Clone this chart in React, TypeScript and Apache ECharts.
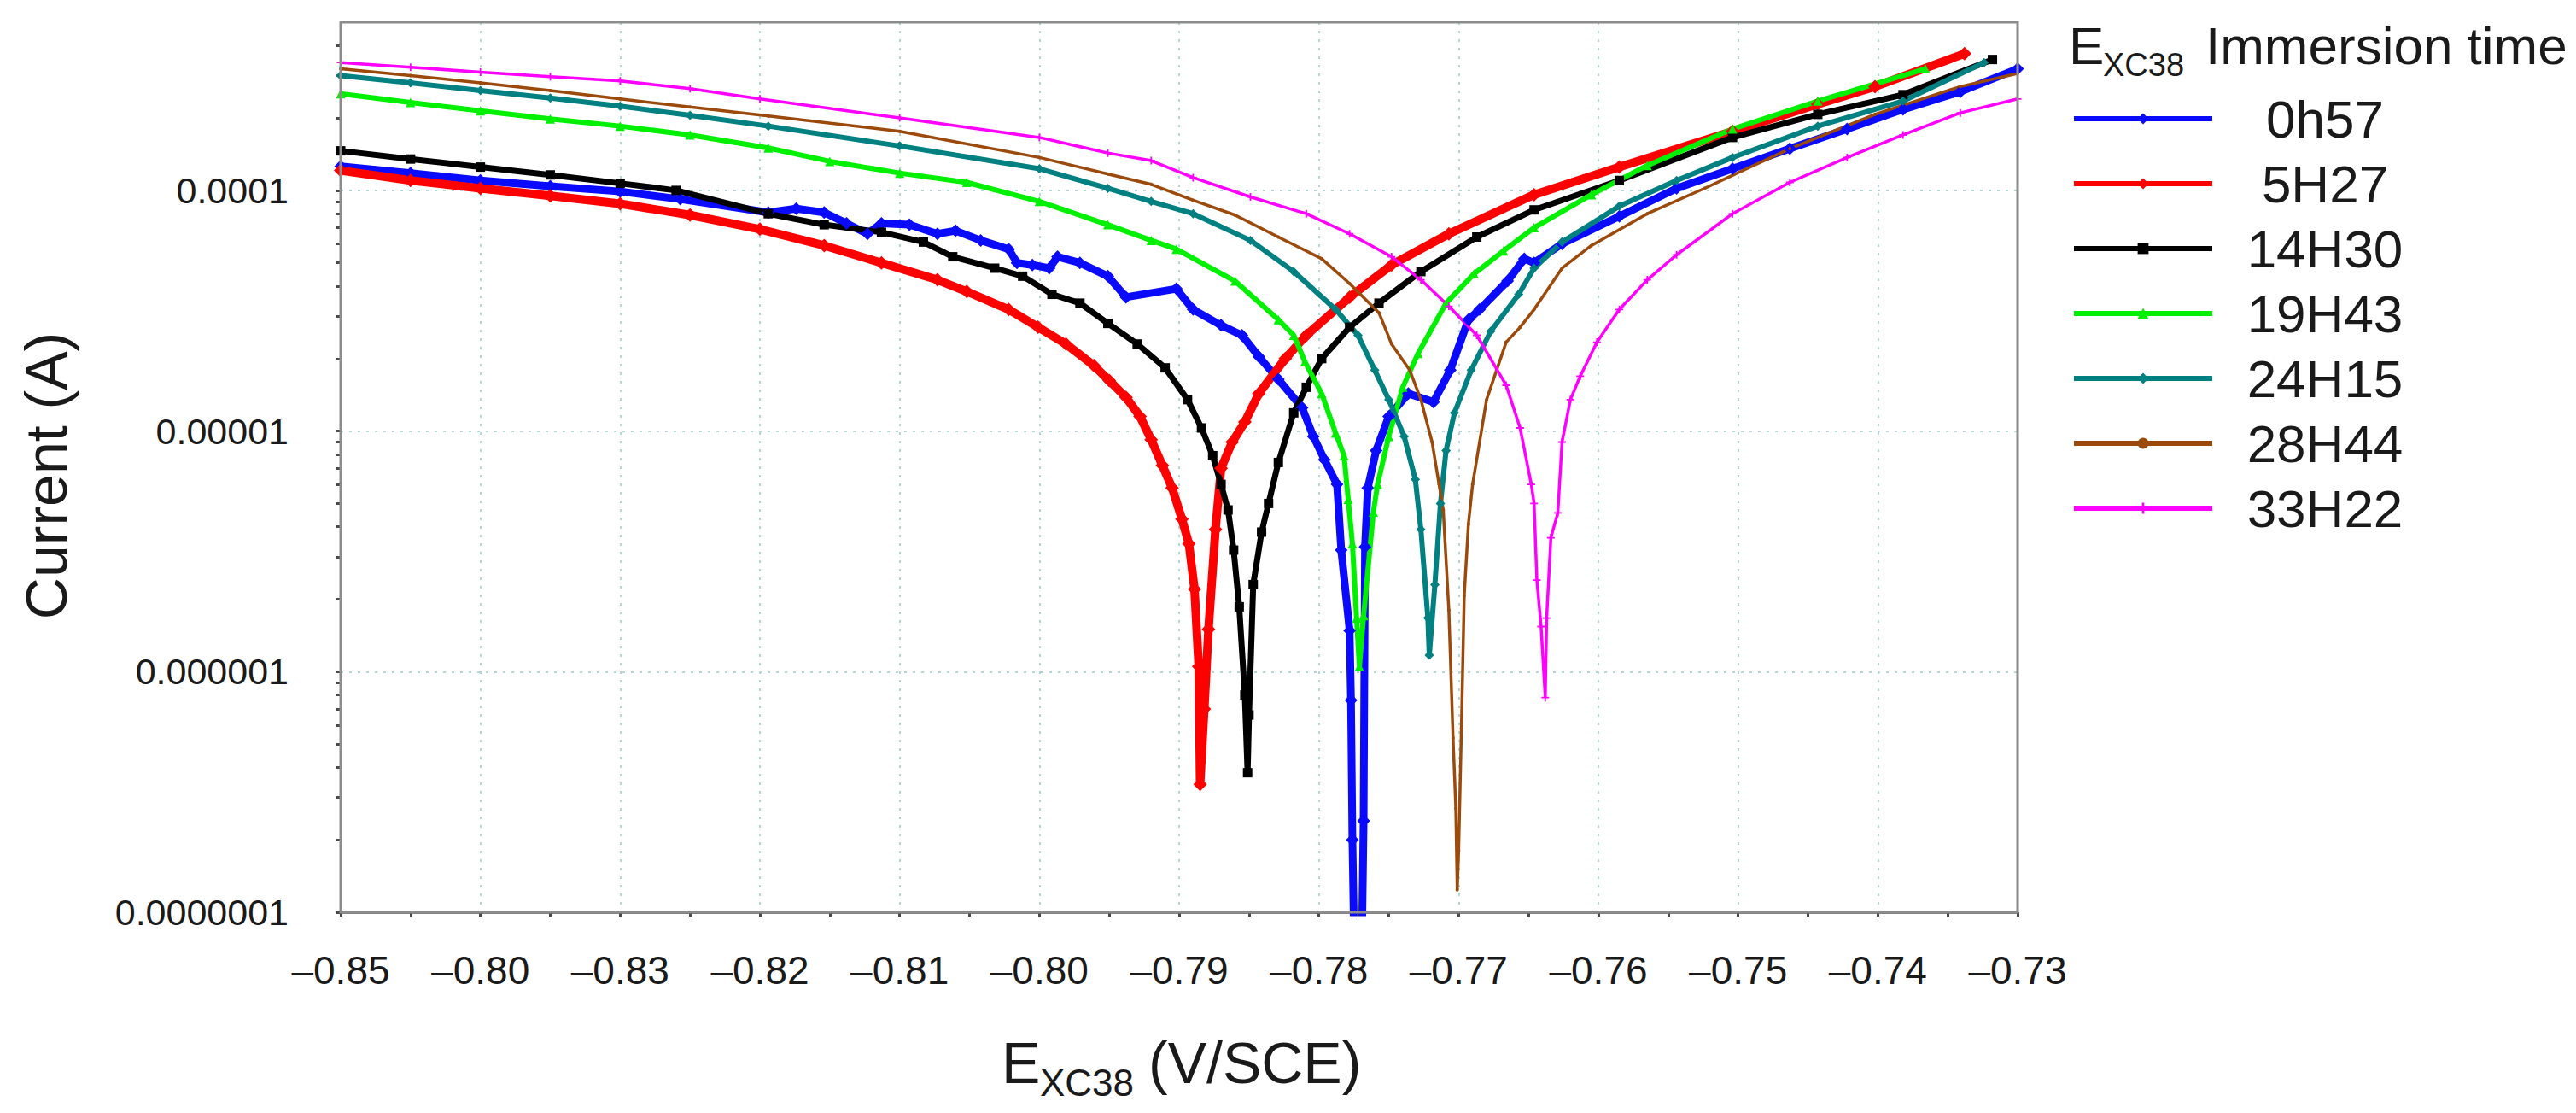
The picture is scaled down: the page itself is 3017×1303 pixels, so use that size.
import { useEffect, useRef } from "react";
import * as echarts from "echarts";

const FONT = '"Liberation Sans", Arial, sans-serif';

// axis ticks (x labels copied as printed, including the second one)
const xTickLabels = ["–0.85", "–0.80", "–0.83", "–0.82", "–0.81", "–0.80", "–0.79", "–0.78", "–0.77", "–0.76", "–0.75", "–0.74", "–0.73"];
const yTickLabels = ["0.0000001", "0.000001", "0.00001", "0.0001"];
const seriesNames = ["0h57", "5H27", "14H30", "19H43", "24H15", "28H44", "33H22"];

// potential (V/SCE) and current (A) per immersion time
const e0h57 = [-0.850, -0.845, -0.840, -0.835, -0.830, -0.8257, -0.8194, -0.8174, -0.8154, -0.8138, -0.8123, -0.8113, -0.8093, -0.8073, -0.8060, -0.8042, -0.8022, -0.8016, -0.8005, -0.7993, -0.7987, -0.7971, -0.7951, -0.7938, -0.7902, -0.7890, -0.7870, -0.7855, -0.7843, -0.7829, -0.7812, -0.7804, -0.7796, -0.7787, -0.7784, -0.7778, -0.7777, -0.7776, -0.7775, -0.7769, -0.7768, -0.7767, -0.7765, -0.7759, -0.7750, -0.7736, -0.7718, -0.7706, -0.7693, -0.7685, -0.7665, -0.7653, -0.7646, -0.7626, -0.7585, -0.7544, -0.7504, -0.7463, -0.7422, -0.7382, -0.7341, -0.7300];
const i0h57 = [1.26e-4, 1.18e-4, 1.10e-4, 1.04e-4, 9.9e-5, 9.2e-5, 8.1e-5, 8.4e-5, 8.1e-5, 7.3e-5, 6.6e-5, 7.3e-5, 7.2e-5, 6.6e-5, 6.8e-5, 6.2e-5, 5.7e-5, 5.0e-5, 4.9e-5, 4.75e-5, 5.3e-5, 5.0e-5, 4.4e-5, 3.6e-5, 3.9e-5, 3.2e-5, 2.75e-5, 2.5e-5, 2.04e-5, 1.64e-5, 1.25e-5, 9.5e-6, 7.6e-6, 6.0e-6, 3.2e-6, 1.48e-6, 7.6e-7, 2.0e-7, 9e-8, 9e-8, 2.4e-7, 3.3e-6, 5.8e-6, 8.3e-6, 1.15e-5, 1.43e-5, 1.32e-5, 1.79e-5, 2.9e-5, 3.2e-5, 4.2e-5, 5.2e-5, 5.0e-5, 6.0e-5, 7.8e-5, 1.02e-4, 1.23e-4, 1.49e-4, 1.8e-4, 2.17e-4, 2.57e-4, 3.2e-4];

const e5h27 = [-0.850, -0.845, -0.840, -0.835, -0.830, -0.825, -0.820, -0.8154, -0.8113, -0.8073, -0.8052, -0.8022, -0.8001, -0.7981, -0.7961, -0.7950, -0.7938, -0.7928, -0.7920, -0.7912, -0.7905, -0.7898, -0.7893, -0.7889, -0.7886, -0.7885, -0.7882, -0.7879, -0.7874, -0.7870, -0.7862, -0.7853, -0.7843, -0.7824, -0.7809, -0.7778, -0.7748, -0.7707, -0.7646, -0.7585, -0.7504, -0.7443, -0.7402, -0.7338];
const i5h27 = [1.21e-4, 1.10e-4, 1.02e-4, 9.5e-5, 8.8e-5, 7.9e-5, 6.9e-5, 5.9e-5, 5.0e-5, 4.25e-5, 3.8e-5, 3.2e-5, 2.7e-5, 2.3e-5, 1.87e-5, 1.62e-5, 1.38e-5, 1.15e-5, 9.2e-6, 7.2e-6, 5.8e-6, 4.3e-6, 3.4e-6, 2.2e-6, 1.05e-6, 3.4e-7, 7.0e-7, 1.5e-6, 3.9e-6, 7.0e-6, 9.0e-6, 1.09e-5, 1.43e-5, 2.0e-5, 2.5e-5, 3.6e-5, 4.9e-5, 6.6e-5, 9.6e-5, 1.25e-4, 1.76e-4, 2.28e-4, 2.7e-4, 3.7e-4];

const e14h30 = [-0.850, -0.845, -0.840, -0.835, -0.830, -0.826, -0.8194, -0.8154, -0.8113, -0.8083, -0.8062, -0.8032, -0.8012, -0.7991, -0.7971, -0.7951, -0.7930, -0.7910, -0.7894, -0.7884, -0.7876, -0.7870, -0.7865, -0.7861, -0.7857, -0.7853, -0.7851, -0.7850, -0.7847, -0.7841, -0.7836, -0.7829, -0.7818, -0.7809, -0.7798, -0.7778, -0.7757, -0.7727, -0.7687, -0.7646, -0.7585, -0.7504, -0.7443, -0.7382, -0.7318];
const i14h30 = [1.46e-4, 1.35e-4, 1.25e-4, 1.16e-4, 1.07e-4, 1.0e-4, 8.0e-5, 7.2e-5, 6.7e-5, 6.1e-5, 5.3e-5, 4.75e-5, 4.4e-5, 3.7e-5, 3.4e-5, 2.8e-5, 2.3e-5, 1.83e-5, 1.35e-5, 1.03e-5, 7.9e-6, 6.0e-6, 4.7e-6, 3.2e-6, 1.86e-6, 8.0e-7, 3.8e-7, 6.6e-7, 2.3e-6, 3.8e-6, 5.0e-6, 7.4e-6, 1.19e-5, 1.52e-5, 2.0e-5, 2.7e-5, 3.4e-5, 4.6e-5, 6.4e-5, 8.3e-5, 1.1e-4, 1.66e-4, 2.07e-4, 2.5e-4, 3.5e-4];

const e19h43 = [-0.850, -0.845, -0.840, -0.835, -0.830, -0.825, -0.8194, -0.8150, -0.8100, -0.8052, -0.8000, -0.7951, -0.7920, -0.7902, -0.7860, -0.7829, -0.7818, -0.7810, -0.7798, -0.7788, -0.7782, -0.7779, -0.7776, -0.7773, -0.7771, -0.7768, -0.7761, -0.7758, -0.7750, -0.7740, -0.7729, -0.7709, -0.7689, -0.7668, -0.7646, -0.7605, -0.7565, -0.7504, -0.7443, -0.7366];
const i19h43 = [2.52e-4, 2.32e-4, 2.14e-4, 1.98e-4, 1.85e-4, 1.7e-4, 1.5e-4, 1.32e-4, 1.18e-4, 1.08e-4, 9.0e-5, 7.2e-5, 6.2e-5, 5.7e-5, 4.2e-5, 2.9e-5, 2.5e-5, 1.94e-5, 1.43e-5, 9.8e-6, 7.9e-6, 5.2e-6, 3.4e-6, 1.67e-6, 1.05e-6, 1.71e-6, 4.6e-6, 6.0e-6, 9.5e-6, 1.52e-5, 2.1e-5, 3.4e-5, 4.5e-5, 5.6e-5, 7.0e-5, 9.6e-5, 1.27e-4, 1.8e-4, 2.35e-4, 3.2e-4];

const e24h15 = [-0.850, -0.845, -0.840, -0.835, -0.830, -0.825, -0.8194, -0.8100, -0.8000, -0.7951, -0.7920, -0.7890, -0.7849, -0.7818, -0.7788, -0.7772, -0.7760, -0.7750, -0.7739, -0.7731, -0.7727, -0.7722, -0.7721, -0.7717, -0.7713, -0.7709, -0.7703, -0.7691, -0.7677, -0.7657, -0.7646, -0.7626, -0.7585, -0.7544, -0.7504, -0.7443, -0.7382, -0.7324];
const i24h15 = [3.0e-4, 2.8e-4, 2.6e-4, 2.42e-4, 2.24e-4, 2.05e-4, 1.85e-4, 1.53e-4, 1.23e-4, 1.02e-4, 9.0e-5, 8.0e-5, 6.2e-5, 4.6e-5, 3.2e-5, 2.5e-5, 1.79e-5, 1.35e-5, 9.5e-6, 6.3e-6, 3.9e-6, 1.67e-6, 1.17e-6, 2.3e-6, 5.0e-6, 8.3e-6, 1.19e-5, 1.79e-5, 2.6e-5, 3.7e-5, 4.75e-5, 6.1e-5, 8.6e-5, 1.1e-4, 1.37e-4, 1.85e-4, 2.35e-4, 3.4e-4];

const e28h44 = [-0.850, -0.845, -0.840, -0.835, -0.830, -0.825, -0.8194, -0.8100, -0.8000, -0.7951, -0.7920, -0.7890, -0.7860, -0.7829, -0.7798, -0.7778, -0.7757, -0.7748, -0.7735, -0.7727, -0.7719, -0.7714, -0.7711, -0.7707, -0.7704, -0.7702, -0.7701, -0.7700, -0.7698, -0.7696, -0.7693, -0.7690, -0.7680, -0.7666, -0.7656, -0.7646, -0.7626, -0.7605, -0.7565, -0.7524, -0.7463, -0.7402, -0.7341, -0.7300];
const i28h44 = [3.2e-4, 3.0e-4, 2.8e-4, 2.6e-4, 2.4e-4, 2.22e-4, 2.04e-4, 1.76e-4, 1.37e-4, 1.17e-4, 1.06e-4, 9.1e-5, 7.9e-5, 6.4e-5, 5.2e-5, 4.1e-5, 3.1e-5, 2.3e-5, 1.79e-5, 1.35e-5, 9.0e-6, 6.0e-6, 4.7e-6, 1.8e-6, 5.3e-7, 2.7e-7, 1.24e-7, 1.8e-7, 5.8e-7, 2.07e-6, 4.1e-6, 6.0e-6, 1.35e-5, 2.34e-5, 2.7e-5, 3.2e-5, 4.75e-5, 5.9e-5, 8.0e-5, 1.02e-4, 1.49e-4, 2.07e-4, 2.7e-4, 3.06e-4];

const e33h22 = [-0.850, -0.845, -0.840, -0.835, -0.830, -0.825, -0.820, -0.8100, -0.8000, -0.7951, -0.7920, -0.7890, -0.7849, -0.7809, -0.7778, -0.7748, -0.7727, -0.7707, -0.7687, -0.7666, -0.7656, -0.7648, -0.7646, -0.7644, -0.7641, -0.7638, -0.7637, -0.7634, -0.7629, -0.7626, -0.7620, -0.7613, -0.7601, -0.7585, -0.7565, -0.7544, -0.7504, -0.7463, -0.7422, -0.7382, -0.7341, -0.7300];
const i33h22 = [3.4e-4, 3.25e-4, 3.1e-4, 2.97e-4, 2.85e-4, 2.65e-4, 2.4e-4, 2.0e-4, 1.66e-4, 1.43e-4, 1.33e-4, 1.13e-4, 9.4e-5, 8.0e-5, 6.6e-5, 5.3e-5, 4.25e-5, 3.3e-5, 2.5e-5, 1.55e-5, 1.03e-5, 6.0e-6, 5.0e-6, 2.4e-6, 1.54e-6, 7.8e-7, 1.67e-6, 3.6e-6, 4.57e-6, 9.0e-6, 1.35e-5, 1.69e-5, 2.34e-5, 3.2e-5, 4.25e-5, 5.4e-5, 8.0e-5, 1.08e-4, 1.37e-4, 1.7e-4, 2.1e-4, 2.4e-4];

const X_MIN = -0.85;
const X_MAX = -0.73;
const Y_MIN = 1e-7;
const Y_MAX = 5e-4;

const PLUS = "path://M4,0H6V4H10V6H6V10H4V6H0V4H4Z";

const styles = [
  { color: "#0a0aff", width: 9, symbol: "diamond", size: 15 },
  { color: "#ff0000", width: 10, symbol: "diamond", size: 16 },
  { color: "#000000", width: 7, symbol: "rect", size: 11 },
  { color: "#00f000", width: 6, symbol: "triangle", size: 11 },
  { color: "#008080", width: 6, symbol: "diamond", size: 11 },
  { color: "#9c4a0c", width: 3.5, symbol: "circle", size: 4 },
  { color: "#ff00ff", width: 3.5, symbol: PLUS, size: 9 },
];

const curves = [
  [e0h57, i0h57],
  [e5h27, i5h27],
  [e14h30, i14h30],
  [e19h43, i19h43],
  [e24h15, i24h15],
  [e28h44, i28h44],
  [e33h22, i33h22],
];

// log10 of the current is plotted on a value axis so that real log minor ticks can be drawn
const lg = (v: number) => Math.log10(v);
const yMinorTicks: number[] = [];
for (let d = -7; d <= -4; d++) {
  for (let k = 2; k <= 9; k++) {
    const t = d + Math.log10(k);
    if (t < lg(Y_MAX)) yMinorTicks.push(t);
  }
}

const textStyle = (size: number) => ({ fontSize: size, fontFamily: FONT, fill: "#1a1a1a", verticalAlign: "middle" });

export default function App() {
  const ref = useRef<HTMLDivElement | null>(null);

  useEffect(() => {
    if (!ref.current) return;
    const chart = echarts.init(ref.current, null, { renderer: "svg" });

    const splitStyle = { color: "#b3d6d6", type: [3, 7], width: 2 };
    const tickStyle = { color: "#4a4a4a", width: 3 };

    chart.setOption({
      animation: false,
      backgroundColor: "#ffffff",
      grid: { left: 399, right: 654, top: 26, bottom: 235, show: true, borderColor: "#8c8c8c", borderWidth: 3, z: 5 },
      xAxis: {
        type: "value",
        min: X_MIN,
        max: X_MAX,
        interval: 0.01,
        axisLine: { lineStyle: { color: "#7f7f7f", width: 3 } },
        axisTick: { show: true, length: 5, lineStyle: tickStyle },
        minorTick: { show: true, splitNumber: 2, length: 5, lineStyle: tickStyle },
        splitLine: { show: true, showMinLine: false, showMaxLine: false, lineStyle: splitStyle },
        axisLabel: {
          margin: 45,
          fontSize: 46,
          fontFamily: FONT,
          color: "#1a1a1a",
          formatter: (v: number) => xTickLabels[Math.round((v - X_MIN) * 100)] ?? "",
        },
      },
      yAxis: [
        {
          type: "value",
          position: "left",
          min: lg(Y_MIN),
          max: lg(Y_MAX),
          interval: 1,
          axisLine: { show: true, lineStyle: { color: "#7f7f7f", width: 3 } },
          axisTick: { show: true, length: 5, lineStyle: tickStyle },
          splitLine: { show: true, showMinLine: false, showMaxLine: false, lineStyle: splitStyle },
          axisLabel: {
            margin: 61,
            fontSize: 43,
            fontFamily: FONT,
            color: "#1a1a1a",
            showMaxLabel: false,
            padding: [12, 0, 0, 0],
            formatter: (v: number) => {
              const k = Math.round(v);
              if (Math.abs(v - k) > 1e-6) return "";
              return yTickLabels[k + 7] ?? "";
            },
          },
        },
        {
          type: "value",
          position: "left",
          offset: 0,
          min: lg(Y_MIN),
          max: lg(Y_MAX),
          axisLine: { show: false },
          axisLabel: { show: false },
          splitLine: { show: false },
          axisTick: { show: true, length: 5, customValues: yMinorTicks, lineStyle: tickStyle },
        },
      ],
      legend: {
        orient: "vertical",
        left: 2421,
        top: 103,
        itemWidth: 162,
        itemHeight: 16,
        itemGap: 14,
        selectedMode: false,
        data: seriesNames,
        lineStyle: { width: 6 },
        formatter: (name: string) => `{n|${name}}`,
        textStyle: {
          fontSize: 62,
          fontFamily: FONT,
          color: "#1a1a1a",
          rich: { n: { width: 254, align: "center", fontSize: 62, lineHeight: 62, fontFamily: FONT, color: "#1a1a1a" } },
        },
      },
      graphic: [
        { type: "text", x: 54, y: 557, rotation: Math.PI / 2, style: { ...textStyle(68), text: "Current (A)", align: "center" } },
        { type: "text", x: 1173, y: 1244, style: { ...textStyle(68), text: "E", align: "left" } },
        { type: "text", x: 1218, y: 1267, style: { ...textStyle(44), text: "XC38", align: "left" } },
        { type: "text", x: 1345, y: 1244, style: { ...textStyle(68), text: "(V/SCE)", align: "left" } },
        { type: "text", x: 2423, y: 53, style: { ...textStyle(62), text: "E", align: "left" } },
        { type: "text", x: 2463, y: 76, style: { ...textStyle(38), text: "XC38", align: "left" } },
        { type: "text", x: 2583, y: 53, style: { ...textStyle(62), text: "Immersion time", align: "left" } },
      ],
      series: curves.map(([es, is], i) => ({
        name: seriesNames[i],
        type: "line",
        xAxisIndex: 0,
        yAxisIndex: 0,
        data: es.map((e, j) => [e, lg(is[j])]),
        symbol: styles[i].symbol,
        symbolSize: styles[i].size,
        showSymbol: true,
        clip: true,
        lineStyle: { color: styles[i].color, width: styles[i].width },
        itemStyle: { color: styles[i].color },
        emphasis: { disabled: true },
      })),
    });

    return () => chart.dispose();
  }, []);

  return <div ref={ref} style={{ position: "fixed", left: 0, top: 0, width: "3017px", height: "1303px", background: "#fff" }} />;
}
